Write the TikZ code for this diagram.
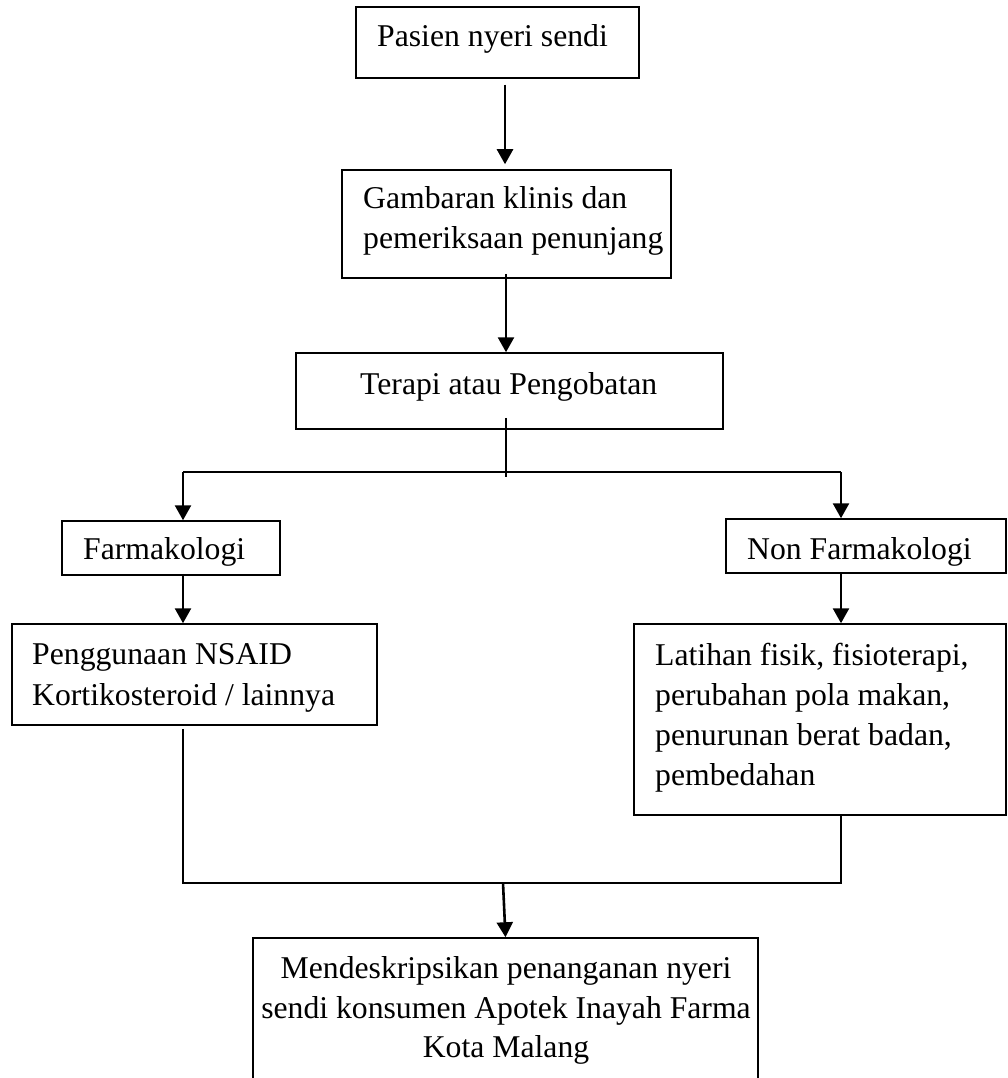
\documentclass[tikz,border=0pt]{standalone}
\usepackage{fontspec}
\setmainfont{Liberation Serif}
\usetikzlibrary{arrows.meta}
\begin{document}
\begin{tikzpicture}[x=1pt,y=-1pt,
  box/.style={draw, line width=1.5pt, rectangle, inner sep=0pt},
  txt/.style={inner sep=0pt, font=\fontsize{31.7}{40}\selectfont},
  arr/.style={line width=2.6pt, -{Triangle[width=16pt,length=15pt]}},
  ln/.style={line width=1.3pt}]
\useasboundingbox (0,0) rectangle (1008,1078);
\clip (0,0) rectangle (1008,1078);
% boxes
\node[box, minimum width=283pt, minimum height=71pt]  (b1) at (497.5,42.5) {};
\node[box, minimum width=329pt, minimum height=108pt] (b2) at (506.5,224) {};
\node[box, minimum width=427pt, minimum height=76pt]  (b3) at (509.5,391) {};
\node[box, minimum width=218pt, minimum height=54pt]  (b4) at (171,548) {};
\node[box, minimum width=280pt, minimum height=54pt]  (b5) at (866,546) {};
\node[box, minimum width=365pt, minimum height=101pt] (b6) at (194.5,674.5) {};
\node[box, minimum width=372pt, minimum height=191pt] (b7) at (820,719.5) {};
\node[box, minimum width=505pt, minimum height=200pt] (b8) at (505.5,1038) {};
% texts
\node[txt, anchor=base west] (t1)  at (377,47)  {Pasien nyeri sendi};
\node[txt, anchor=base west] (t2a) at (363,208) {Gambaran klinis dan};
\node[txt, anchor=base west] (t2b) at (363,248) {pemeriksaan penunjang};
\node[txt, anchor=base west] (t3)  at (360,394) {Terapi atau Pengobatan};
\node[txt, anchor=base west] (t4)  at (83,559)  {Farmakologi};
\node[txt, anchor=base west] (t5)  at (747,559) {Non Farmakologi};
\node[txt, anchor=base west] (t6a) at (32,664)  {Penggunaan NSAID};
\node[txt, anchor=base west] (t6b) at (32,705)  {Kortikosteroid / lainnya};
\node[txt, anchor=base west] (t7a) at (655,665) {Latihan fisik, fisioterapi,};
\node[txt, anchor=base west] (t7b) at (655,705) {perubahan pola makan,};
\node[txt, anchor=base west] (t7c) at (655,745) {penurunan berat badan,};
\node[txt, anchor=base west] (t7d) at (655,785) {pembedahan};
\node[txt, anchor=base] (t8a) at (506,978)  {Mendeskripsikan penanganan nyeri};
\node[txt, anchor=base] (t8b) at (506,1018) {sendi konsumen Apotek Inayah Farma};
\node[txt, anchor=base] (t8c) at (506,1057) {Kota Malang};
% junction coordinates
\coordinate (xa) at (505,0);
\coordinate (xb) at (506,0);
\coordinate (j1) at (506,472);
\coordinate (jl) at (183,472);
\coordinate (jr) at (841,472);
\coordinate (kl) at (183,883);
\coordinate (kr) at (841,883);
\coordinate (km) at (503,883);
% connectors
\draw[arr, shorten <=6pt, shorten >=5pt] (b1.south -| xa) -- (b2.north -| xa);
\draw[arr, shorten <=-5pt] (b2.south -| xb) -- (b3.north -| xb);
\draw[ln, shorten <=-12pt, shorten >=-5pt] (b3.south -| j1) -- (j1);
\draw[ln] (jl) -- (jr);
\draw[arr] (jl) -- (b4.north -| jl);
\draw[arr] (jr) -- (b5.north -| jr);
\draw[arr, shorten <=-2pt] (b4.south -| jl) -- (b6.north -| jl);
\draw[arr] (b5.south -| jr) -- (b7.north -| jr);
\draw[ln, shorten <=3pt] (b6.south -| kl) -- (kl) -- (kr) -- (b7.south -| kr);
\draw[arr] (km) -- (b8.north);
\end{tikzpicture}
\end{document}
